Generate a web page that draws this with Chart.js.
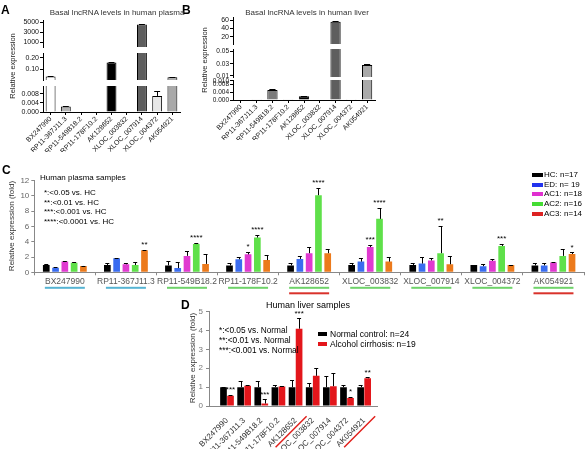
<!DOCTYPE html>
<html>
<head>
<meta charset="utf-8">
<script src="https://cdn.jsdelivr.net/npm/chart.js@4.4.1/dist/chart.umd.min.js"></script>
<style>
  html, body { margin: 0; padding: 0; background: #fff; }
  #page { position: relative; width: 585px; height: 449px; overflow: hidden; font-family: "Liberation Sans", Arial, sans-serif; color: #000; }
  #page canvas { position: absolute; }
  .t { position: absolute; white-space: nowrap; line-height: 1; }
</style>
</head>
<body>
<div id="page">
  <canvas id="aTop" width="185" height="39" style="left:0;top:14px"></canvas>
  <canvas id="aMid" width="185" height="39" style="left:0;top:47px"></canvas>
  <canvas id="aBot" width="185" height="72" style="left:0;top:80px"></canvas>
  <canvas id="bTop" width="190" height="39" style="left:190px;top:11px"></canvas>
  <canvas id="bMid" width="190" height="40" style="left:190px;top:43px"></canvas>
  <canvas id="bBot" width="190" height="66" style="left:190px;top:74px"></canvas>
  <canvas id="plasma" width="585" height="128" style="left:0;top:170px"></canvas>
  <canvas id="liver" width="235" height="149" style="left:165px;top:300px"></canvas>
</div>
<script>
// lncRNAs shown in every panel
const genes = ['BX247990', 'RP11-367J11.3', 'RP11-549B18.2', 'RP11-178F10.2', 'AK128652',
  'XLOC_003832', 'XLOC_007914', 'XLOC_004372', 'AK054921'];

// A: basal levels in human plasma (broken axis)
const plasmaBasal = [0.04, 0.0024, 0, 0, 0.16, 0, 4600, 0.0071, 0.033];
const plasmaBasalErr = [0.004, 0.0003, 0, 0, 0.004, 0, 150, 0.0023, 0.005];
const aTopTicks = [1000, 3000, 5000];
const aMidTicks = [0.10, 0.20];
const aBotTicks = [0, 0.004, 0.008];

// B: basal levels in human liver (broken axis)
const liverBasal = [0, 0.0001, 0.0052, 0.0001, 0.002, 0, 56, 0.0001, 0.028];
const liverBasalErr = [0, 0, 0.0003, 0, 0.0001, 0, 2, 0, 0.001];
const bTopTicks = [20, 40, 60];
const bMidTicks = [0.01, 0.03, 0.05];
const bBotTicks = [0, 0.004, 0.008, 0.010];

// C: plasma samples, fold vs HC
const plasmaGroups = ['HC: n=17', 'ED: n= 19', 'AC1: n=18', 'AC2: n=16', 'AC3: n=14'];
const hc = [0.95, 0.95, 0.9, 0.9, 0.9, 0.95, 0.95, 0.95, 0.9];
const hcErr = [0.08, 0.3, 0.6, 0.35, 0.35, 0.3, 0.3, 0.05, 0.35];
const ed = [0.6, 1.83, 0.55, 1.7, 1.75, 1.4, 1.15, 0.8, 0.9];
const edErr = [0.05, 0.05, 0.8, 0.3, 0.45, 0.45, 0.9, 0.25, 0.35];
const ac1 = [1.4, 1.05, 2.15, 2.35, 2.5, 3.3, 1.55, 1.5, 1.3];
const ac1Err = [0.08, 0.2, 0.65, 0.35, 0.8, 0.3, 0.35, 0.25, 0.05];
const ac2 = [1.25, 0.95, 3.7, 4.55, 10.1, 7.0, 2.5, 3.45, 2.15];
const ac2Err = [0.08, 0.35, 0.1, 0.35, 1.0, 1.4, 3.6, 0.3, 0.95];
const ac3 = [0.83, 2.9, 1.1, 1.6, 2.5, 1.4, 1.05, 0.95, 2.4];
const ac3Err = [0.05, 0.08, 1.25, 0.7, 0.6, 0.65, 1.15, 0.05, 0.2];
const ac1Stars = ['', '', '', '*', '', '***', '', '', ''];
const ac2Stars = ['', '', '****', '****', '****', '****', '**', '***', ''];
const ac3Stars = ['', '**', '', '', '', '', '', '', '*'];
const plasmaNotes = ['*:<0.05 vs. HC', '**:<0.01 vs. HC', '***:<0.001 vs. HC', '****:<0.0001 vs. HC'];
const plasmaMarks = [['#56b4d3'], ['#56b4d3'], ['#6fd36a'], ['#6fd36a'], ['#6fd36a', '#d9322b'],
  ['#6fd36a'], ['#6fd36a'], ['#6fd36a'], ['#6fd36a', '#d9322b']];

// D: liver samples, fold vs normal
const liverGroups = ['Normal control: n=24', 'Alcohol cirrhosis: n=19'];
const normal = [1.0, 1.0, 1.0, 1.0, 1.0, 1.0, 1.0, 1.0, 1.0];
const normalErr = [0.03, 0.3, 0.3, 0.1, 0.4, 0.22, 0.6, 0.12, 0.12];
const cirrhosis = [0.55, 1.07, 0.13, 1.03, 4.1, 1.6, 1.05, 0.43, 1.47];
const cirrhosisErr = [0.03, 0.02, 0.22, 0.02, 0.55, 0.4, 0.7, 0.04, 0.05];
const cirrhosisStars = ['***', '', '***', '', '***', '', '', '*', '**'];
const liverNotes = ['*:<0.05 vs. Normal', '**:<0.01 vs. Normal', '***:<0.001 vs. Normal'];
const liverMarks = [false, false, false, false, true, false, false, false, true];

const FONT = '"Liberation Sans", Arial, sans-serif';
Chart.defaults.font.family = FONT;
Chart.defaults.animation = false;
Chart.defaults.events = [];
Chart.defaults.plugins.legend.display = false;
Chart.defaults.plugins.tooltip.enabled = false;

// error bars (upper half only) + significance stars
const errorBars = {
  id: 'errorBars',
  afterDatasetsDraw(chart) {
    const ctx = chart.ctx, area = chart.chartArea, y = chart.scales.y;
    chart.data.datasets.forEach((ds, di) => {
      if (!ds.errors) return;
      const meta = chart.getDatasetMeta(di);
      meta.data.forEach((bar, i) => {
        const e = ds.errors[i];
        const top = y.getPixelForValue(meta.controller.getParsed(i).y + e);
        if (e) {
          ctx.save();
          ctx.beginPath();
          ctx.rect(area.left, area.top, area.right - area.left, area.bottom - area.top);
          ctx.clip();
          const half = bar.width * 0.3;
          ctx.strokeStyle = '#000';
          ctx.lineWidth = 1;
          ctx.beginPath();
          ctx.moveTo(Math.round(bar.x) + 0.5, bar.y);
          ctx.lineTo(Math.round(bar.x) + 0.5, Math.round(top) + 0.5);
          ctx.moveTo(bar.x - half, Math.round(top) + 0.5);
          ctx.lineTo(bar.x + half, Math.round(top) + 0.5);
          ctx.stroke();
          ctx.restore();
        }
        if (ds.stars && ds.stars[i]) {
          ctx.save();
          ctx.fillStyle = '#000';
          ctx.font = '8px ' + FONT;
          ctx.textAlign = 'center';
          ctx.textBaseline = 'bottom';
          ctx.fillText(ds.stars[i], bar.x, Math.min(top, bar.y) - 1);
          ctx.restore();
        }
      });
    });
  }
};

// coloured group markers under the panel C labels
const underlines = {
  id: 'underlines',
  afterDraw(chart, args, opts) {
    if (!opts.marks) return;
    const x = chart.scales.x, ctx = chart.ctx;
    opts.marks.forEach((cols, i) => {
      const cx = x.getPixelForValue(i);
      cols.forEach((c, k) => {
        ctx.fillStyle = c;
        ctx.fillRect(cx - 20, x.top + 14.5 + k * 5.5, 40, 2);
      });
    });
  }
};

// slanted red markers under rotated panel D labels
const slashes = {
  id: 'slashes',
  afterDraw(chart, args, opts) {
    if (!opts.marks) return;
    const x = chart.scales.x, ctx = chart.ctx;
    ctx.save();
    ctx.strokeStyle = '#e0201b';
    ctx.lineWidth = 1.5;
    opts.marks.forEach((on, i) => {
      if (!on) return;
      const cx = x.getPixelForValue(i);
      ctx.beginPath();
      ctx.moveTo(cx + 11, x.top + 10.2);
      ctx.lineTo(cx - 20, x.top + 41.2);
      ctx.stroke();
    });
    ctx.restore();
  }
};

function segment(id, values, errors, colors, min, max, ticks, digits, fontSize, showX) {
  return new Chart(document.getElementById(id), {
    type: 'bar',
    plugins: [errorBars],
    data: {
      labels: genes,
      datasets: [{
        data: values,
        errors: errors,
        backgroundColor: colors,
        borderColor: '#000',
        borderWidth: 1,
        barPercentage: 0.65,
        categoryPercentage: 1
      }]
    },
    options: {
      responsive: false,
      layout: { padding: { top: 6, bottom: showX ? 0 : 6, right: 5 } },
      scales: {
        x: {
          display: showX,
          grid: { drawOnChartArea: false, offset: false, color: '#000', tickLength: 3 },
          border: { color: '#000' },
          ticks: { autoSkip: false, minRotation: 45, maxRotation: 45, color: '#111', font: { size: 7 }, padding: 0 },
          afterFit: showX ? (s) => { s.height = 40; } : undefined
        },
        y: {
          min: min,
          max: max,
          afterBuildTicks: (s) => { s.ticks = ticks.map((v) => ({ value: v })); },
          afterFit: (s) => { s.width = 43; },
          grid: { drawOnChartArea: false, color: '#000', tickLength: 3 },
          border: { color: '#000' },
          ticks: { autoSkip: false, color: '#111', font: { size: fontSize }, padding: 1, callback: (v) => digits ? v.toFixed(digits) : String(v) }
        }
      }
    }
  });
}

const aColors = ['#ffffff', '#b4b4b4', '#999999', '#999999', '#000000', '#999999', '#5e5e5e', '#e8e8e8', '#a9a9a9'];
const bColors = ['#ffffff', '#b4b4b4', '#7a7a7a', '#999999', '#000000', '#999999', '#5e5e5e', '#e8e8e8', '#a9a9a9'];

segment('aTop', plasmaBasal, plasmaBasalErr, aColors, 100, 5500, aTopTicks, 0, 7, false);
segment('aMid', plasmaBasal, plasmaBasalErr, aColors, 0.01, 0.24, aMidTicks, 2, 7, false);
segment('aBot', plasmaBasal, plasmaBasalErr, aColors, 0, 0.0115, aBotTicks, 3, 7, true);
segment('bTop', liverBasal, liverBasalErr, bColors, 2.5, 67.2, bTopTicks, 0, 7, false);
segment('bMid', liverBasal, liverBasalErr, bColors, 0.00835, 0.0544, bMidTicks, 2, 6.5, false);
segment('bBot', liverBasal, liverBasalErr, bColors, 0, 0.0104, bBotTicks, 3, 6.5, true);

// panel C
const plasmaColors = ['#000000', '#3a6cf0', '#e03ad0', '#5fe04a', '#ec7a1c'];
const plasmaLegendColors = ['#000000', '#2233ee', '#e02fd0', '#44dd33', '#dd2222'];
const plasmaSets = [[hc, hcErr, null], [ed, edErr, null], [ac1, ac1Err, ac1Stars], [ac2, ac2Err, ac2Stars], [ac3, ac3Err, ac3Stars]];
new Chart(document.getElementById('plasma'), {
  type: 'bar',
  plugins: [errorBars, underlines],
  data: {
    labels: genes,
    datasets: plasmaSets.map(([vals, errs, stars], k) => ({
      label: plasmaGroups[k],
      data: vals,
      errors: errs,
      stars: stars,
      backgroundColor: plasmaColors[k],
      barPercentage: 0.72,
      categoryPercentage: 0.76
    }))
  },
  options: {
    responsive: false,
    layout: { padding: { top: 10.7, right: 1 } },
    plugins: { underlines: { marks: plasmaMarks } },
    scales: {
      x: {
        grid: { drawOnChartArea: false, color: '#888', tickLength: 3 },
        border: { color: '#888' },
        ticks: { autoSkip: false, maxRotation: 0, color: '#555', font: { size: 8.5 }, padding: 1 },
        afterFit: (s) => { s.height = 25.7; }
      },
      y: {
        min: 0,
        max: 12,
        ticks: { stepSize: 2, color: '#666', font: { size: 8 }, padding: 2 },
        grid: { drawOnChartArea: false, color: '#888', tickLength: 3 },
        border: { color: '#888' },
        afterFit: (s) => { s.width = 34.3; }
      }
    }
  }
});

// panel D (numeric x so the first pair sits a little away from the axis)
const liverColors = ['#000000', '#e3161b'];
const liverSets = [[normal, normalErr, null], [cirrhosis, cirrhosisErr, cirrhosisStars]];
new Chart(document.getElementById('liver'), {
  type: 'bar',
  plugins: [errorBars, slashes],
  data: {
    datasets: liverSets.map(([vals, errs, stars], k) => ({
      label: liverGroups[k],
      data: vals.map((v, i) => ({ x: i, y: v })),
      errors: errs,
      stars: stars,
      backgroundColor: liverColors[k],
      barPercentage: 0.95,
      categoryPercentage: 0.82
    }))
  },
  options: {
    responsive: false,
    layout: { padding: { top: 11.7, right: 23 } },
    plugins: { slashes: { marks: liverMarks } },
    scales: {
      x: {
        type: 'linear',
        offset: false,
        min: -1.05,
        max: 8.75,
        afterBuildTicks: (s) => { s.ticks = genes.map((g, i) => ({ value: i })); },
        grid: { display: false },
        border: { color: '#888' },
        ticks: { autoSkip: false, minRotation: 45, maxRotation: 45, color: '#333', font: { size: 8 }, padding: 2, callback: (v) => genes[v] },
        afterFit: (s) => { s.height = 43; }
      },
      y: {
        min: 0,
        max: 5,
        ticks: { stepSize: 1, color: '#777', font: { size: 8 }, padding: 3 },
        grid: { drawOnChartArea: false, color: '#888', tickLength: 3 },
        border: { color: '#888' },
        afterFit: (s) => { s.width = 44; }
      }
    }
  }
});

// text and legends
const page = document.getElementById('page');
function addText(str, x, y, css, anchor) {
  const el = document.createElement('div');
  el.className = 't';
  el.textContent = str;
  el.style.left = x + 'px';
  el.style.top = y + 'px';
  Object.assign(el.style, css || {});
  const shift = { left: 'translate(0,-50%)', center: 'translate(-50%,-50%)', vertical: 'translate(-50%,-50%) rotate(-90deg)' };
  el.style.transform = shift[anchor || 'left'];
  page.appendChild(el);
}
function addBox(x, y, w, h, color) {
  const el = document.createElement('div');
  Object.assign(el.style, { position: 'absolute', left: x + 'px', top: (y - h / 2) + 'px', width: w + 'px', height: h + 'px', background: color });
  page.appendChild(el);
}

const letter = { fontSize: '12px', fontWeight: 'bold' };
addText('A', 1, 10, letter);
addText('B', 182, 10, letter);
addText('C', 2, 170, letter);
addText('D', 181, 305, letter);

addText('Basal lncRNA levels in human plasma', 117, 13, { fontSize: '8px', color: '#333' }, 'center');
addText('Basal lncRNA levels in human liver', 307, 13, { fontSize: '8px', color: '#333' }, 'center');
addText('Relative expression', 13, 66, { fontSize: '7.5px', color: '#222' }, 'vertical');
addText('Relative expression', 205, 60, { fontSize: '7.5px', color: '#222' }, 'vertical');

addText('Relative expression (fold)', 12, 226, { fontSize: '8px', color: '#333' }, 'vertical');
addText('Human plasma samples', 40, 178, { fontSize: '8px' });
plasmaNotes.forEach((s, i) => addText(s, 44, 193 + i * 9.7, { fontSize: '8px' }));
plasmaGroups.forEach((s, i) => {
  const y = 174.7 + i * 9.8;
  addBox(531.5, y, 11, 4, plasmaLegendColors[i]);
  addText(s, 544, y, { fontSize: '8px' });
});

addText('Human liver samples', 308, 305, { fontSize: '9px' }, 'center');
addText('Relative expression (fold)', 193, 358, { fontSize: '8px', color: '#333' }, 'vertical');
liverNotes.forEach((s, i) => addText(s, 219, 330 + i * 10, { fontSize: '8.3px' }));
liverGroups.forEach((s, i) => {
  const y = 334 + i * 10;
  addBox(318, y, 9, 4, liverColors[i]);
  addText(s, 330, y, { fontSize: '8.5px' });
});
</script>
</body>
</html>
